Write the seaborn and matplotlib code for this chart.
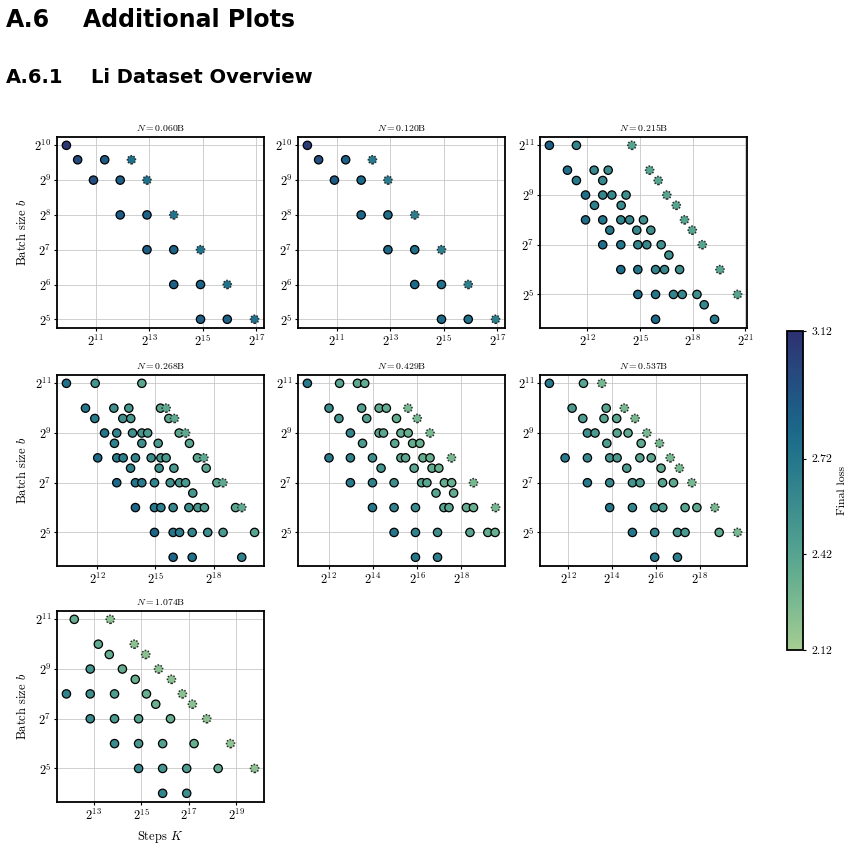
import numpy as np
import pandas as pd
import matplotlib
matplotlib.use("Agg")
import matplotlib.pyplot as plt
import seaborn as sns
from matplotlib.ticker import LogFormatterSciNotation, NullLocator
from matplotlib.colors import Normalize
from matplotlib.cm import ScalarMappable

# ---- data (steps given as log2 K, projected points flagged) ----
sizes = ["0.060", "0.120", "0.215", "0.268", "0.429", "0.537", "1.074"]

b_060 = [1024, 768, 768, 768, 512, 512, 512, 256, 256, 256, 128, 128, 128, 64, 64, 64, 32, 32, 32]
logk_060 = [9.9, 10.32, 11.33, 12.33, 10.91, 11.91, 12.91, 11.91, 12.91, 13.91, 12.91, 13.91, 14.91,
            13.91, 14.91, 15.91, 14.91, 15.91, 16.93]
star_060 = [0, 0, 0, 1, 0, 0, 1, 0, 0, 1, 0, 0, 1, 0, 0, 1, 0, 0, 1]
loss_060 = [3.08, 2.98, 2.88, 2.76, 2.95, 2.86, 2.75, 2.88, 2.84, 2.74, 2.87, 2.84, 2.74,
            2.86, 2.84, 2.74, 2.87, 2.85, 2.75]

b_120 = list(b_060)
logk_120 = list(logk_060)
star_120 = list(star_060)
loss_120 = [3.06, 2.95, 2.85, 2.70, 2.88, 2.80, 2.68, 2.82, 2.78, 2.67, 2.80, 2.76, 2.66,
            2.79, 2.75, 2.66, 2.80, 2.76, 2.67]

b_215 = [2048] * 3 + [1024] * 4 + [768] * 3 + [512] * 5 + [384] * 3 + [256] * 6 + [192] * 4 \
    + [128] * 6 + [96] + [64] * 6 + [32] * 6 + [24] + [16] * 2
logk_215 = [9.83, 11.37, 14.53,
            10.86, 12.38, 13.18, 15.54,
            11.37, 12.87, 16.03,
            11.89, 12.87, 13.39, 14.2, 16.52,
            12.4, 13.92, 17.06,
            11.89, 12.87, 13.9, 14.4, 15.19, 17.53,
            13.27, 14.81, 15.61, 17.97,
            12.87, 13.9, 14.87, 15.38, 16.2, 18.54,
            16.64,
            13.9, 14.87, 15.88, 16.39, 17.25, 19.55,
            14.87, 15.88, 16.9, 17.4, 18.24, 20.55,
            18.65,
            15.88, 19.24]
star_215 = [0, 0, 1, 0, 0, 0, 1, 0, 0, 1, 0, 0, 0, 0, 1, 0, 0, 1, 0, 0, 0, 0, 0, 1,
            0, 0, 0, 1, 0, 0, 0, 0, 0, 1, 0, 0, 0, 0, 0, 0, 1, 0, 0, 0, 0, 0, 1, 0, 0, 0]
loss_215 = [2.86, 2.62, 2.42,
            2.76, 2.60, 2.57, 2.42,
            2.70, 2.60, 2.42,
            2.76, 2.63, 2.60, 2.56, 2.42,
            2.66, 2.58, 2.42,
            2.78, 2.72, 2.62, 2.60, 2.55, 2.42,
            2.72, 2.60, 2.56, 2.42,
            2.78, 2.72, 2.62, 2.60, 2.55, 2.42,
            2.55,
            2.78, 2.72, 2.62, 2.60, 2.55, 2.42,
            2.78, 2.72, 2.62, 2.60, 2.55, 2.42,
            2.60,
            2.80, 2.70]

b_268 = [2048] * 3 + [1024] * 5 + [768] * 5 + [512] * 7 + [384] * 4 + [256] * 9 + [192] * 4 \
    + [128] * 9 + [96] + [64] * 9 + [32] * 7 + [16] * 3
logk_268 = [10.42, 11.9, 14.3,
            11.4, 12.86, 13.63, 15.26, 15.55,
            11.88, 13.32, 13.73, 15.69, 15.98,
            12.38, 13.01, 13.82, 14.3, 14.6, 16.22, 16.55,
            12.89, 14.3, 15.14, 16.75,
            12.03, 13.01, 13.34, 13.97, 14.78, 15.28, 15.55, 17.16, 17.49,
            13.72, 15.19, 15.95, 17.61,
            13.01, 13.97, 14.3, 14.95, 15.76, 16.24, 16.55, 18.16, 18.47,
            16.92,
            13.97, 14.95, 15.28, 15.91, 16.72, 17.18, 17.52, 19.12, 19.44,
            14.95, 15.91, 16.24, 16.89, 17.69, 18.48, 20.1,
            15.91, 16.89, 19.44]
star_268 = [0, 0, 0,
            0, 0, 0, 0, 1,
            0, 0, 0, 0, 1,
            0, 0, 0, 0, 0, 0, 1,
            0, 0, 0, 0,
            0, 0, 0, 0, 0, 0, 0, 0, 1,
            0, 0, 0, 0,
            0, 0, 0, 0, 0, 0, 0, 0, 1,
            0,
            0, 0, 0, 0, 0, 0, 0, 0, 1,
            0, 0, 0, 0, 0, 0, 0,
            0, 0, 0]
loss_268 = [2.75, 2.52, 2.40,
            2.72, 2.55, 2.50, 2.40, 2.38,
            2.68, 2.55, 2.50, 2.40, 2.38,
            2.72, 2.62, 2.55, 2.50, 2.48, 2.40, 2.38,
            2.64, 2.55, 2.48, 2.40,
            2.80, 2.70, 2.66, 2.62, 2.55, 2.50, 2.48, 2.40, 2.38,
            2.65, 2.55, 2.48, 2.40,
            2.80, 2.72, 2.68, 2.62, 2.55, 2.50, 2.48, 2.40, 2.38,
            2.50,
            2.82, 2.70, 2.66, 2.60, 2.55, 2.50, 2.48, 2.40, 2.38,
            2.82, 2.72, 2.68, 2.62, 2.55, 2.48, 2.42,
            2.82, 2.75, 2.65]

b_429 = [2048] * 4 + [1024] * 5 + [768] * 4 + [512] * 6 + [384] * 4 + [256] * 8 + [192] * 4 \
    + [128] * 8 + [96] * 2 + [64] * 8 + [32] * 6 + [16] * 2
logk_429 = [11.02, 12.48, 13.29, 13.62,
            12.0, 13.48, 14.27, 14.6, 15.58,
            12.45, 13.71, 15.06, 16.0,
            12.97, 14.27, 14.47, 15.26, 15.59, 16.58,
            13.52, 14.98, 15.79, 16.12,
            12.0, 12.97, 13.97, 15.26, 15.47, 16.26, 16.58, 17.55,
            14.36, 15.86, 16.67, 16.98,
            12.97, 13.97, 14.95, 16.2, 16.44, 17.23, 17.56, 18.55,
            16.85, 17.65,
            13.97, 14.95, 15.92, 17.21, 17.44, 18.23, 18.55, 19.55,
            14.95, 15.92, 16.92, 18.39, 19.2, 19.53,
            15.92, 16.92]
star_429 = [0, 0, 0, 0,
            0, 0, 0, 0, 1,
            0, 0, 0, 1,
            0, 0, 0, 0, 0, 1,
            0, 0, 0, 0,
            0, 0, 0, 0, 0, 0, 0, 1,
            0, 0, 0, 0,
            0, 0, 0, 0, 0, 0, 0, 1,
            0, 0,
            0, 0, 0, 0, 0, 0, 0, 1,
            0, 0, 0, 0, 0, 0,
            0, 0]
loss_429 = [2.70, 2.42, 2.38, 2.36,
            2.58, 2.44, 2.38, 2.36, 2.28,
            2.52, 2.44, 2.36, 2.28,
            2.62, 2.42, 2.40, 2.36, 2.34, 2.28,
            2.48, 2.40, 2.36, 2.34,
            2.70, 2.64, 2.56, 2.42, 2.40, 2.36, 2.34, 2.28,
            2.52, 2.40, 2.36, 2.34,
            2.70, 2.64, 2.56, 2.42, 2.40, 2.36, 2.34, 2.28,
            2.42, 2.36,
            2.72, 2.64, 2.58, 2.42, 2.40, 2.36, 2.34, 2.28,
            2.72, 2.64, 2.56, 2.42, 2.36, 2.34,
            2.72, 2.66]

b_537 = [2048] * 3 + [1024] * 3 + [768] * 4 + [512] * 5 + [384] * 3 + [256] * 7 + [192] * 3 \
    + [128] * 7 + [64] * 7 + [32] * 6 + [16] * 2
logk_537 = [11.13, 12.69, 13.53,
            12.17, 13.73, 14.56,
            12.66, 13.63, 14.21, 15.05,
            12.87, 13.22, 14.23, 14.73, 15.59,
            13.76, 15.33, 16.17,
            11.85, 12.87, 13.89, 14.23, 15.27, 15.79, 16.66,
            14.67, 16.24, 17.08,
            12.87, 13.89, 14.93, 15.28, 16.31, 16.81, 17.65,
            13.89, 14.93, 15.95, 16.32, 17.34, 17.88, 18.7,
            14.93, 15.95, 16.99, 17.34, 18.9, 19.74,
            15.95, 16.99]
star_537 = [0, 0, 1,
            0, 0, 1,
            0, 0, 0, 1,
            0, 0, 0, 0, 1,
            0, 0, 1,
            0, 0, 0, 0, 0, 0, 1,
            0, 0, 1,
            0, 0, 0, 0, 0, 0, 1,
            0, 0, 0, 0, 0, 0, 1,
            0, 0, 0, 0, 0, 1,
            0, 0]
loss_537 = [2.70, 2.42, 2.28,
            2.48, 2.42, 2.28,
            2.46, 2.42, 2.40, 2.28,
            2.55, 2.48, 2.42, 2.38, 2.28,
            2.46, 2.38, 2.28,
            2.70, 2.60, 2.52, 2.48, 2.42, 2.38, 2.28,
            2.46, 2.38, 2.28,
            2.70, 2.60, 2.52, 2.48, 2.42, 2.38, 2.28,
            2.72, 2.62, 2.52, 2.48, 2.42, 2.38, 2.28,
            2.72, 2.62, 2.52, 2.48, 2.38, 2.28,
            2.72, 2.66]

b_1074 = [2048] * 2 + [1024] * 2 + [768] * 2 + [512] * 3 + [384] * 2 + [256] * 5 + [192] * 2 \
    + [128] * 5 + [64] * 5 + [32] * 5 + [16] * 2
logk_1074 = [12.19, 13.7,
             13.2, 14.71,
             13.66, 15.19,
             12.86, 14.21, 15.73,
             14.75, 16.27,
             11.86, 12.86, 13.88, 15.22, 16.73,
             15.61, 17.15,
             12.86, 13.88, 14.89, 16.23, 17.75,
             13.88, 14.89, 15.9, 17.22, 18.75,
             14.89, 15.9, 16.91, 18.23, 19.76,
             15.9, 16.91]
star_1074 = [0, 1, 0, 1, 0, 1, 0, 0, 1, 0, 1, 0, 0, 0, 0, 1, 0, 1,
             0, 0, 0, 0, 1, 0, 0, 0, 0, 1, 0, 0, 0, 0, 1, 0, 0]
loss_1074 = [2.36, 2.22,
             2.38, 2.21,
             2.36, 2.21,
             2.52, 2.36, 2.21,
             2.34, 2.21,
             2.64, 2.56, 2.46, 2.34, 2.21,
             2.33, 2.21,
             2.58, 2.48, 2.43, 2.34, 2.21,
             2.58, 2.51, 2.44, 2.34, 2.20,
             2.60, 2.52, 2.46, 2.36, 2.20,
             2.62, 2.56]

panels = [
    (b_060, logk_060, star_060, loss_060),
    (b_120, logk_120, star_120, loss_120),
    (b_215, logk_215, star_215, loss_215),
    (b_268, logk_268, star_268, loss_268),
    (b_429, logk_429, star_429, loss_429),
    (b_537, logk_537, star_537, loss_537),
    (b_1074, logk_1074, star_1074, loss_1074),
]
xtick_pows = [[11, 13, 15, 17], [11, 13, 15, 17], [12, 15, 18, 21], [12, 15, 18],
              [12, 14, 16, 18], [12, 14, 16, 18], [13, 15, 17, 19]]
ytick_pows = [[5, 6, 7, 8, 9, 10], [5, 6, 7, 8, 9, 10]] + [[5, 7, 9, 11]] * 5
cbar_ticks = [2.12, 2.42, 2.72, 3.12]

# ---- style ----
sns.set_style("whitegrid")
plt.rcParams["font.family"] = "serif"
plt.rcParams["font.serif"] = ["cmr10", "DejaVu Serif"]
plt.rcParams["mathtext.fontset"] = "cm"
plt.rcParams["axes.formatter.use_mathtext"] = True
plt.rcParams["axes.unicode_minus"] = False
for key in ["text.color", "axes.labelcolor", "xtick.color", "ytick.color"]:
    plt.rcParams[key] = "black"

norm = Normalize(2.12, 3.12)
cmap = sns.color_palette("crest", as_cmap=True)

fig = plt.figure(figsize=(8.56, 8.46), dpi=100)

hdr = dict(fontweight="bold", family="DejaVu Sans", va="baseline", color="black")
fig.text(0.007, 0.968, "A.6", fontsize=17, **hdr)
fig.text(0.097, 0.968, "Additional Plots", fontsize=17, **hdr)
fig.text(0.007, 0.902, "A.6.1", fontsize=14, **hdr)
fig.text(0.106, 0.902, "Li Dataset Overview", fontsize=14, **hdr)

lefts = [0.0666, 0.3481, 0.6308]
bottoms = [0.6123, 0.3310, 0.0520]
w, h = 0.2418, 0.2262

for i, (b, logk, star, loss) in enumerate(panels):
    assert len(b) == len(logk) == len(star) == len(loss), i
    ax = fig.add_axes([lefts[i % 3], bottoms[i // 3], w, h])
    ax.set_xscale("log", base=2)
    ax.set_yscale("log", base=2)
    df = pd.DataFrame({"steps": 2.0 ** np.array(logk), "batch": b, "star": star, "loss": loss})

    # trained runs
    sns.scatterplot(data=df[df.star == 0], x="steps", y="batch", hue="loss", palette="crest",
                    hue_norm=norm, s=36, edgecolor="black", linewidth=0.9, legend=False,
                    ax=ax, zorder=3)
    # dotted-edge points
    sns.scatterplot(data=df[df.star == 1], x="steps", y="batch", hue="loss", palette="crest",
                    hue_norm=norm, s=34, edgecolor="#2b2b2b", linewidth=1.1, linestyle=(0, (1, 1)),
                    legend=False, ax=ax, zorder=4)

    ax.set_xticks([2.0 ** k for k in xtick_pows[i]])
    ax.set_yticks([2.0 ** k for k in ytick_pows[i]])
    ax.xaxis.set_major_formatter(LogFormatterSciNotation(base=2))
    ax.yaxis.set_major_formatter(LogFormatterSciNotation(base=2))
    ax.xaxis.set_minor_locator(NullLocator())
    ax.yaxis.set_minor_locator(NullLocator())
    ax.tick_params(labelsize=9, length=2.5, width=0.8, pad=1.5, bottom=True, left=True)
    ax.grid(True, color="#c8c8c8", linewidth=0.6)
    ax.set_axisbelow(True)
    for sp in ax.spines.values():
        sp.set_edgecolor("black")
        sp.set_linewidth(1.3)

    ax.set_title(r"$N = %s$B" % sizes[i], fontsize=7, pad=4)
    ax.set_xlabel("Steps $K$" if i == 6 else "", fontsize=9)
    ax.set_ylabel("Batch size $b$" if i % 3 == 0 else "", fontsize=9)

cax = fig.add_axes([0.9194, 0.2317, 0.0187, 0.377])
cb = fig.colorbar(ScalarMappable(norm=norm, cmap=cmap), cax=cax)
cb.set_ticks(cbar_ticks)
cb.set_ticklabels(["%.2f" % t for t in cbar_ticks])
cb.ax.tick_params(labelsize=8.5, length=2.5, width=0.8)
cb.outline.set_linewidth(1.3)
cb.outline.set_edgecolor("black")
cb.set_label("Final loss", fontsize=8.5)

fig.savefig("out.png", dpi=100)
